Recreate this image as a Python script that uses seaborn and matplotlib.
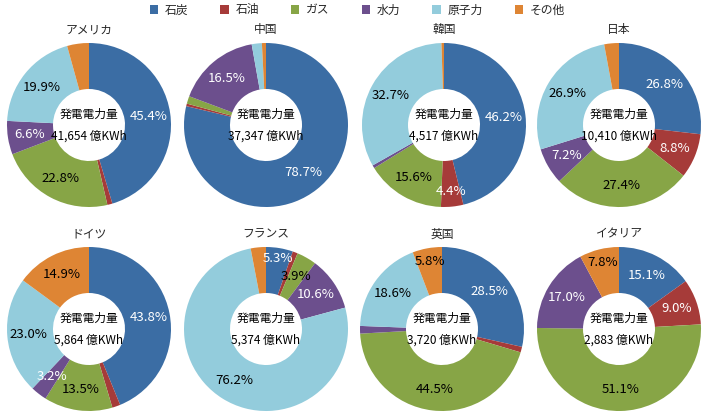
import matplotlib
matplotlib.use("Agg")
import matplotlib.pyplot as plt
import seaborn as sns
from matplotlib.patches import Patch
import numpy as np

sns.set_theme(style="white")
plt.rcParams['font.family'] = ['Noto Sans CJK JP', 'DejaVu Sans']

sources = ["石炭", "石油", "ガス", "水力", "原子力", "その他"]
colors = ["#3B6DA4", "#A63B39", "#87A546", "#6C4F8D", "#93CCDC", "#DE8534"]
label_colors = ["white", "white", "black", "white", "black", "black"]

countries = ["アメリカ", "中国", "韓国", "日本", "ドイツ", "フランス", "英国", "イタリア"]
totals = ["41,654", "37,347", "4,517", "10,410", "5,864", "5,374", "3,720", "2,883"]

usa = [45.4, 1.0, 22.8, 6.6, 19.9, 4.3]
china = [78.7, 0.5, 1.5, 16.5, 2.0, 0.8]
korea = [46.2, 4.4, 15.6, 0.6, 32.7, 0.5]
japan = [26.8, 8.8, 27.4, 7.2, 26.9, 2.9]
germany = [43.8, 1.6, 13.5, 3.2, 23.0, 14.9]
france = [5.3, 1.0, 3.9, 10.6, 76.2, 3.0]
uk = [28.5, 1.1, 44.5, 1.5, 18.6, 5.8]
italy = [15.1, 9.0, 51.1, 17.0, 0.0, 7.8]

# which shares get a label (shown values)
shown = [
    [True, False, True, True, True, False],
    [True, False, False, True, False, False],
    [True, True, True, False, True, False],
    [True, True, True, True, True, False],
    [True, False, True, True, True, True],
    [True, False, True, True, True, False],
    [True, False, True, False, True, True],
    [True, True, True, True, False, True],
]
data = [usa, china, korea, japan, germany, france, uk, italy]

# label radius tweaks (layout only): (chart index, slice index) -> radius
label_r = {(5, 0): 0.87, (5, 2): 0.74, (6, 5): 0.84, (7, 5): 0.84, (2, 1): 0.82}

W, H = 715, 420
fig = plt.figure(figsize=(W / 100, H / 100), dpi=100)

centers_x = [89, 266, 444, 619]
centers_y = [125, 329]
R = 82
hole = 36

for i, (name, tot, vals, show) in enumerate(zip(countries, totals, data, shown)):
    row, col = divmod(i, 4)
    cx = centers_x[col] + (-2 if i == 6 else 0)
    cy = centers_y[row]
    ax = fig.add_axes([(cx - R) / W, 1 - (cy + R) / H, 2 * R / W, 2 * R / H])
    ax.pie(vals, colors=colors, startangle=90, counterclock=False, radius=1,
           wedgeprops=dict(width=1 - hole / R, linewidth=0))
    ax.set_xlim(-1, 1)
    ax.set_ylim(-1, 1)
    ax.set_aspect('equal')
    ax.axis('off')
    cum = 0.0
    total = sum(vals)
    for j, (v, s, lc) in enumerate(zip(vals, show, label_colors)):
        mid = (cum + v / 2) / total
        cum += v
        if not s:
            continue
        ang = np.deg2rad(90 - 360 * mid)
        r = label_r.get((i, j), 0.74)
        ax.text(r * np.cos(ang), r * np.sin(ang), f"{v:.1f}%", ha='center', va='center',
                fontsize=9.5, color=lc)
    ax.text(0, 0.13, "発電電力量", ha='center', va='center', fontsize=8.5, color='black')
    ax.text(0, -0.14, f"{tot} 億KWh", ha='center', va='center', fontsize=8.5, color='black')
    fig.text(cx / W, 1 - (cy - R - 13) / H, name, ha='center', va='center', fontsize=8.5)

handles = [Patch(facecolor=c, edgecolor='none', label=s) for c, s in zip(colors, sources)]
fig.legend(handles=handles, loc='center', bbox_to_anchor=(0.5, 1 - 10 / H), ncol=6,
           frameon=False, fontsize=8.5, handlelength=0.7, handleheight=0.7,
           handletextpad=0.6, columnspacing=2.7, borderaxespad=0)

fig.savefig("out.png", dpi=100)
